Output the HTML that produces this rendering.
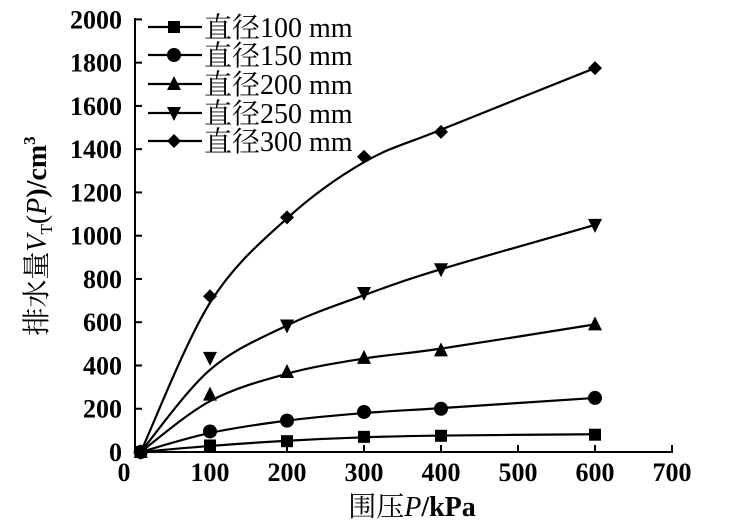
<!DOCTYPE html>
<html><head><meta charset="utf-8"><style>
html,body{margin:0;padding:0;background:#fff;}
svg text{font-family:"Liberation Serif","Noto Serif CJK SC",serif;fill:#000;}
</style></head><body>
<svg id="s" width="740" height="526" xmlns="http://www.w3.org/2000/svg">
<g font-size="26" font-weight="bold" text-anchor="end" id="yl"></g>
<g font-size="26" font-weight="bold" text-anchor="middle" id="xl"></g>
<line x1="135" y1="18" x2="135" y2="452" stroke="#000" stroke-width="2"/>
<line x1="134" y1="452" x2="673" y2="452" stroke="#000" stroke-width="2"/>
<g id="tk" stroke="#000" stroke-width="2"></g>
<g id="cv" fill="none" stroke="#000" stroke-width="2.2"></g>
<g id="mk" fill="#000"></g>
<g id="lg"></g>
<text x="412" y="516" font-size="28" text-anchor="middle"><tspan font-family="Noto Serif CJK SC,serif">围压</tspan><tspan font-style="italic">P</tspan><tspan font-weight="bold">/kPa</tspan></text>
<text transform="translate(46,236) rotate(-90)" font-size="28" text-anchor="middle"><tspan font-family="Noto Serif CJK SC,serif">排水量</tspan><tspan font-style="italic">V</tspan><tspan font-size="17" dy="6">T</tspan><tspan dy="-6">(</tspan><tspan font-style="italic">P</tspan><tspan font-weight="bold">)/cm</tspan><tspan font-size="17" dy="-11" font-weight="bold">3</tspan></text>
</svg>
<script>
const NS="http://www.w3.org/2000/svg";
const X=v=>133+v*0.77, Y=v=>452-v*0.2163;
function el(p,t,a,txt){const e=document.createElementNS(NS,t);for(const k in a)e.setAttribute(k,a[k]);if(txt!=null)e.textContent=txt;document.getElementById(p).appendChild(e);return e;}
for(let v=0;v<=2000;v+=200){el("yl","text",{x:122,y:Y(v)+9},v);if(v>0)el("tk","line",{x1:135,y1:Y(v),x2:142,y2:Y(v)});}
for(let v=0;v<=700;v+=100){el("xl","text",{x:v==0?124:X(v),y:481},v);if(v>0)el("tk","line",{x1:X(v),y1:452,x2:X(v),y2:445});}
const S=[
[[10,0],[100,30],[200,50],[300,70],[400,75],[600,80]],
[[10,0],[100,95],[200,145],[300,185],[400,200],[600,250]],
[[10,0],[100,265],[200,370],[300,435],[400,470],[600,590]],
[[10,0],[100,435],[200,585],[300,735],[400,845],[600,1050]],
[[10,0],[100,720],[200,1085],[300,1365],[400,1480],[600,1775]]];
const C=[
[[10,0],[100,28],[200,52],[300,68],[400,76],[600,82]],
[[10,0],[100,88],[200,145],[300,180],[400,203],[600,250]],
[[10,0],[100,235],[200,362],[300,432],[400,478],[600,590]],
[[10,0],[100,380],[200,585],[300,725],[400,845],[600,1050]],
[[10,0],[100,690],[200,1080],[300,1340],[400,1490],[600,1775]]];
function mark(k,x,y){
 if(k==0)el("mk","rect",{x:x-6,y:y-6,width:12,height:12});
 else if(k==1)el("mk","circle",{cx:x,cy:y,r:7});
 else if(k==2)el("mk","polygon",{points:`${x},${y-8} ${x-7},${y+6} ${x+7},${y+6}`});
 else if(k==3)el("mk","polygon",{points:`${x},${y+8} ${x-7},${y-6} ${x+7},${y-6}`});
 else el("mk","polygon",{points:`${x},${y-7} ${x+7},${y} ${x},${y+7} ${x-7},${y}`});
}
S.forEach((s,k)=>{
 const p=C[k].map(([a,b])=>[X(a),Y(b)]);
 let d=`M${p[0][0]},${p[0][1]}`;
 for(let i=0;i<p.length-1;i++){
  const p0=p[i-1]||p[i],p1=p[i],p2=p[i+1],p3=p[i+2]||p2;
  const c1=[p1[0]+(p2[0]-p0[0])/6,p1[1]+(p2[1]-p0[1])/6];
  const c2=[p2[0]-(p3[0]-p1[0])/6,p2[1]-(p3[1]-p1[1])/6];
  d+=` C${c1} ${c2} ${p2}`;
 }
 el("cv","path",{d});
 s.map(([a,b])=>[X(a),Y(b)]).forEach(q=>mark(k,q[0],q[1]));
 const ly=[27,55,84,113,141][k];
 el("lg","line",{x1:148,y1:ly,x2:202,y2:ly,stroke:"#000","stroke-width":2.2});
 mark(k,174,ly);
 const t=el("lg","text",{x:204,y:ly+10,"font-size":28},"");
 t.innerHTML=`<tspan font-family="Noto Serif CJK SC,serif">直径</tspan><tspan>${[100,150,200,250,300][k]} mm</tspan>`;
});
</script>
</body></html>
